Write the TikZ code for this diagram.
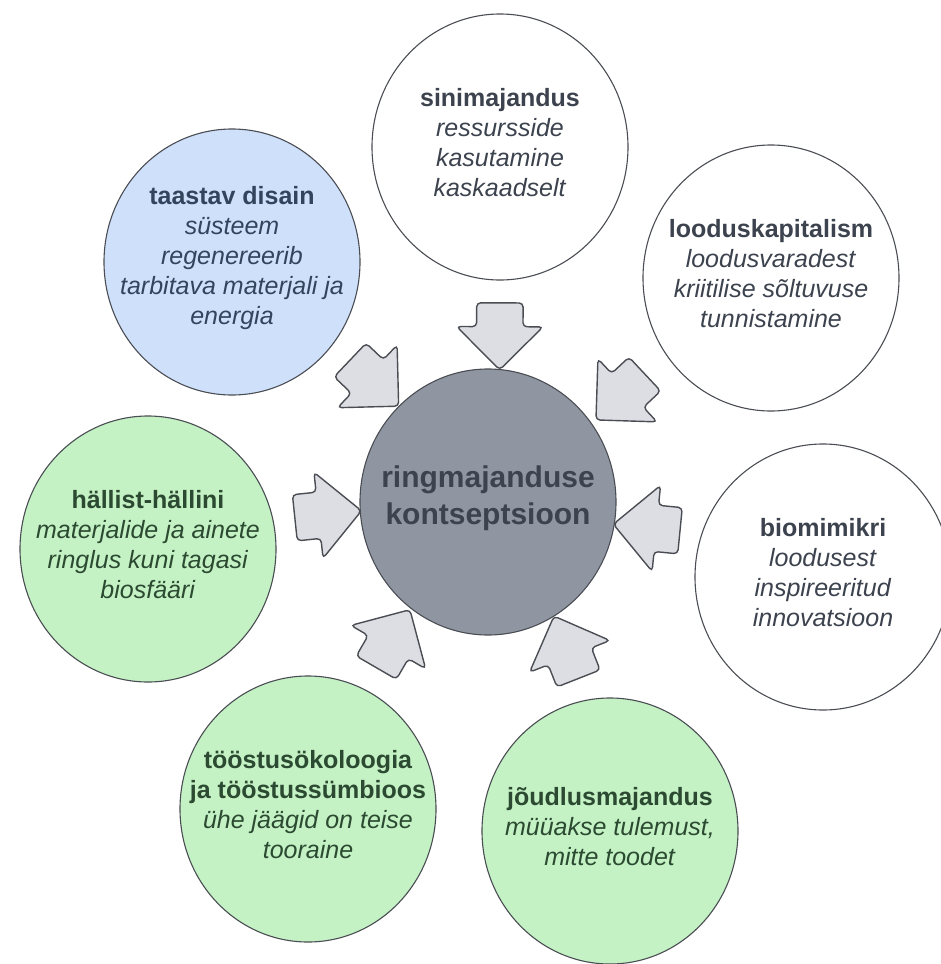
\documentclass[tikz,border=0pt]{standalone}
\usepackage{fontspec}
\setmainfont{Liberation Sans}
\usetikzlibrary{shapes.geometric,shapes.arrows}
\definecolor{rim}{HTML}{4A4D53}
\definecolor{greytext}{HTML}{3C434E}
\definecolor{bluetext}{HTML}{34445C}
\definecolor{greentext}{HTML}{2B4A31}
\definecolor{bluefill}{HTML}{CFE1FA}
\definecolor{greenfill}{HTML}{C4F2C4}
\definecolor{corefill}{HTML}{8F96A2}
\definecolor{flowfill}{HTML}{DDDEE3}
\begin{document}
\begin{tikzpicture}[x=1pt,y=-1pt]
        \tikzstyle{idea}=[ellipse,draw=rim,line width=1.1pt,minimum width=256pt,minimum height=266pt,inner sep=0pt]
        \tikzstyle{plain}=[idea,fill=white]
        \tikzstyle{blue}=[idea,fill=bluefill]
        \tikzstyle{green}=[idea,fill=greenfill]
        \tikzstyle{core}=[idea,fill=corefill]
        \tikzstyle{caption}=[align=center,inner sep=0pt,yshift=4pt,font=\fontsize{25}{30}\selectfont]
        \tikzstyle{flow}=[single arrow,draw=rim,line width=1.4pt,fill=flowfill,minimum height=67pt,inner xsep=0pt,inner ysep=22.5pt,single arrow head extend=20pt,single arrow tip angle=90,rounded corners=4pt,sloped,allow upside down,midway]
       \useasboundingbox (0,0) rectangle (941,964);
       \begin{scope}
         \node [core] (core) at (488,502) {};
         \node [plain] (sini) at (500,147) {};
         \node [blue] (taastav) at (232,262) {};
         \node [plain] (loodus) at (771,278) {};
         \node [green] (hallist) at (148,549) {};
         \node [plain] (bio) at (823,577) {};
         \node [green] (toostus) at (308,809) {};
         \node [green] (joud) at (610,831) {};
         \node [caption,text=greytext,font=\fontsize{30}{37}\selectfont\bfseries] (coretext) at (core) {ringmajanduse\\kontseptsioon};
         \node [caption,text=greytext] (sinitext) at (sini) {\textbf{sinimajandus}\\\textit{ressursside}\\\textit{kasutamine}\\\textit{kaskaadselt}};
         \node [caption,text=bluetext] (taastavtext) at (taastav) {\textbf{taastav disain}\\\textit{süsteem}\\\textit{regenereerib}\\\textit{tarbitava materjali ja}\\\textit{energia}};
         \node [caption,text=greytext] (loodustext) at (loodus) {\textbf{looduskapitalism}\\\textit{loodusvaradest}\\\textit{kriitilise sõltuvuse}\\\textit{tunnistamine}};
         \node [caption,text=greentext] (hallisttext) at (hallist) {\textbf{hällist-hällini}\\\textit{materjalide ja ainete}\\\textit{ringlus kuni tagasi}\\\textit{biosfääri}};
         \node [caption,text=greytext] (biotext) at (bio) {\textbf{biomimikri}\\\textit{loodusest}\\\textit{inspireeritud}\\\textit{innovatsioon}};
         \node [caption,text=greentext] (toostustext) at (toostus) {\textbf{tööstusökoloogia}\\\textbf{ja tööstussümbioos}\\\textit{ühe jäägid on teise}\\\textit{tooraine}};
         \node [caption,text=greentext] (joudtext) at (joud) {\textbf{jõudlusmajandus}\\\textit{müüakse tulemust,}\\\textit{mitte toodet}};
         \path (sini.south) -- node [flow] (asini) {} (core.85);
         \path (taastav.-39) -- node [flow] (ataastav) {} (core.133);
         \path (loodus.216) -- node [flow] (aloodus) {} (core.37);
         \path (hallist.13) -- node [flow] (ahallist) {} (core.184);
         \path (bio.160) -- node [flow] (abio) {} (core.-10);
         \path (toostus.65) -- node [flow] (atoostus) {} (core.234);
         \path (joud.100) -- node [flow] (ajoud) {} (core.300);
        \end{scope}
      \end{tikzpicture}
\end{document}
